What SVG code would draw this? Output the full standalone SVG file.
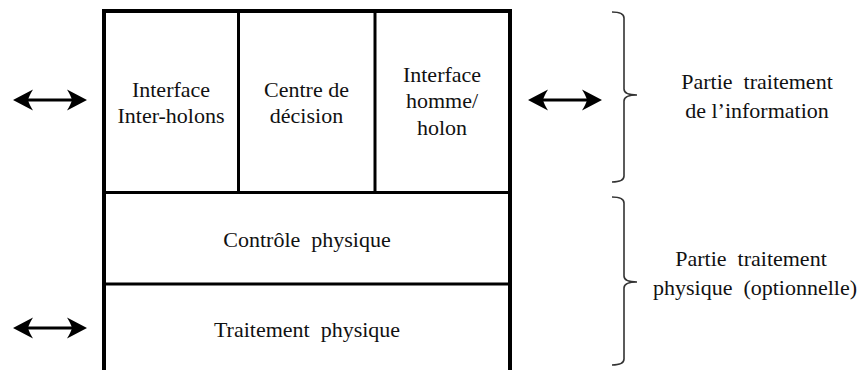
<svg xmlns="http://www.w3.org/2000/svg" xmlns:xlink="http://www.w3.org/1999/xlink" width="866" height="370" viewBox="0 0 866 370">
<style>
  .t { font-size: 22px; fill: #111; text-anchor: middle; white-space: pre; }
  .outer { fill: none; stroke: #000; stroke-width: 4; }
  .div { fill: none; stroke: #000; stroke-width: 3; }
  .brace { fill: none; stroke: #333; stroke-width: 1.6; }
  .shaft { stroke: #000; stroke-width: 3.2; }
</style>
<defs>
  <g id="darrow">
    <line class="shaft" x1="10" y1="0" x2="64" y2="0"/>
    <path d="M0,0 L20,-10.5 Q16,-4 15,0 Q16,4 20,10.5 Z" fill="#000"/>
    <path d="M74,0 L54,-10.5 Q58,-4 59,0 Q58,4 54,10.5 Z" fill="#000"/>
  </g>
</defs>
<rect width="866" height="370" fill="#fff"/>
<g id="connectors">
  <use xlink:href="#darrow" x="13" y="100"/>
  <use xlink:href="#darrow" x="528" y="100"/>
  <use xlink:href="#darrow" x="13" y="328"/>
</g>
<g id="frame">
  <path class="outer" d="M104,372 L104,11 L510,11 L510,372"/>
  <line class="div" x1="104" y1="192.5" x2="510" y2="192.5"/>
  <line class="div" x1="104" y1="284" x2="510" y2="284"/>
  <line class="div" x1="238.5" y1="11" x2="238.5" y2="192"/>
  <line class="div" x1="375" y1="11" x2="375" y2="192"/>
</g>
<g font-family="Liberation Serif">
<g id="interface-inter-holons">
  <text class="t" x="171" y="97">Interface</text>
  <text class="t" x="171" y="123">Inter-holons</text>
</g>
<g id="centre-decision">
  <text class="t" x="306.5" y="97">Centre de</text>
  <text class="t" x="306.5" y="123">décision</text>
</g>
<g id="interface-homme-holon">
  <text class="t" x="442" y="82">Interface</text>
  <text class="t" x="442" y="108">homme/</text>
  <text class="t" x="442" y="135">holon</text>
</g>
<g id="controle-physique">
  <text class="t" x="307" y="247">Contrôle  physique</text>
</g>
<g id="traitement-physique">
  <text class="t" x="307" y="337">Traitement  physique</text>
</g>
<g id="brace-info">
  <path class="brace" d="M612,12 Q624,12 624,18 L624,89 Q624,95 637,95 Q624,95 624,101 L624,176 Q624,182 612,182"/>
  <text class="t" x="757" y="89">Partie  traitement</text>
  <text class="t" x="757" y="118">de l’information</text>
</g>
<g id="brace-phys">
  <path class="brace" d="M612,197 Q624,197 624,203 L624,276 Q624,282 637,282 Q624,282 624,288 L624,359 Q624,365 612,365"/>
  <text class="t" x="751" y="266">Partie  traitement</text>
  <text class="t" x="755" y="295">physique  (optionnelle)</text>
</g>
</g>
</svg>
